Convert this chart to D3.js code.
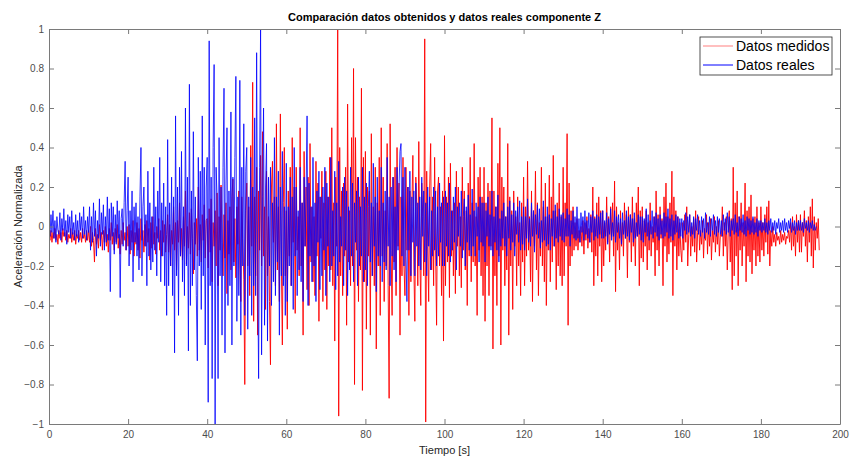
<!DOCTYPE html>
<html>
<head>
<meta charset="utf-8">
<script src="https://cdn.jsdelivr.net/npm/d3@7"></script>
<style>
  body { margin: 0; background: #fff; }
  svg { display: block; font-family: "Liberation Sans", Arial, Helvetica, sans-serif; }
</style>
</head>
<body>
<div id="chart"></div>
<script>
// sample spacing of both signals, seconds
var dt = 0.25;

// Datos medidos (red), one value every 0.25 s from t = 0, 40 values = 10 s per line
var medidos = [
  -0.04,-0.07,-0.02,-0.08,-0.03,-0.06,-0.01,-0.07,-0.04,-0.09,-0.02,-0.06,-0.03,-0.08,-0.01,-0.05,-0.03,-0.07,-0.02,-0.08,
  -0.04,-0.06,-0.01,-0.08,-0.03,-0.07,-0.02,-0.09,-0.04,-0.06,-0.02,-0.07,-0.03,-0.08,-0.01,-0.06,-0.04,-0.08,-0.02,-0.07,
  -0.02,-0.08,0.00,-0.10,-0.03,-0.07,-0.18,-0.01,-0.09,-0.04,-0.11,0.01,-0.07,-0.03,-0.12,-0.02,-0.08,0.00,-0.10,-0.04,
  -0.13,-0.01,-0.07,0.02,-0.09,-0.03,-0.12,-0.01,-0.08,0.01,-0.11,-0.04,-0.14,-0.02,-0.09,0.02,-0.07,-0.03,-0.12,0.00,
  -0.10,0.01,-0.14,-0.02,-0.08,0.03,-0.15,-0.03,-0.09,0.02,-0.12,-0.01,-0.16,0.04,-0.07,-0.02,-0.13,0.01,-0.10,0.03,
  -0.08,-0.01,-0.17,0.02,-0.11,0.05,-0.09,-0.03,-0.14,0.00,-0.06,0.04,-0.12,-0.02,-0.15,0.03,-0.08,0.01,-0.13,-0.04,
  0.06,-0.13,0.01,-0.20,-0.02,-0.09,0.10,-0.12,0.02,-0.22,0.03,-0.08,0.12,-0.15,-0.01,-0.17,0.05,-0.10,0.18,-0.19,
  0.00,-0.11,0.07,-0.14,0.09,-0.06,-0.24,0.02,-0.09,0.04,-0.15,0.20,-0.12,0.01,-0.18,0.06,-0.07,0.11,-0.16,0.03,
  0.04,-0.21,0.09,-0.13,0.14,-0.28,0.02,-0.10,0.08,-0.20,0.17,-0.30,0.05,-0.12,0.21,-0.08,-0.25,0.06,-0.16,0.12,
  -0.34,0.03,-0.14,0.10,-0.22,0.15,0.24,-0.18,0.04,-0.26,0.10,-0.09,0.18,-0.20,-0.38,0.15,-0.06,-0.27,-0.80,0.08,
  0.22,-0.20,0.10,-0.35,0.41,-0.10,0.73,-0.48,0.15,-0.25,0.30,-0.55,0.18,-0.12,0.36,-0.20,0.48,-0.15,0.10,-0.42,
  0.28,-0.25,0.05,-0.38,-0.70,0.20,0.33,-0.08,0.15,-0.30,0.52,-0.22,0.10,-0.38,0.57,-0.18,-0.60,0.12,0.40,-0.25,
  0.08,-0.52,0.18,-0.15,0.30,-0.30,0.45,-0.08,0.20,-0.44,0.30,-0.12,0.05,-0.25,0.50,-0.20,0.12,-0.55,0.38,-0.10,
  0.20,-0.32,0.25,-0.40,0.42,-0.18,0.10,-0.28,0.05,-0.35,0.33,-0.15,0.22,-0.48,0.15,-0.06,0.28,-0.38,0.12,-0.22,
  0.28,-0.42,0.15,-0.20,0.35,-0.22,0.50,-0.30,0.12,-0.58,0.25,-0.10,1.00,-0.96,0.40,-0.25,0.18,-0.35,0.22,-0.15,
  0.30,-0.50,0.62,-0.18,0.08,-0.30,0.45,-0.20,0.80,-0.80,0.45,-0.12,0.25,-0.38,0.15,-0.22,0.70,-0.83,0.35,-0.28,
  0.38,-0.52,0.20,-0.15,0.18,-0.55,0.47,-0.25,0.10,-0.30,0.30,-0.62,0.12,-0.20,0.35,-0.45,0.50,-0.15,0.25,-0.38,
  0.08,-0.20,0.42,-0.30,-0.87,0.52,-0.12,-0.45,0.25,-0.18,0.30,-0.35,0.40,-0.10,0.22,-0.55,0.15,-0.25,0.35,-0.20,
  -0.35,0.30,-0.12,0.20,-0.45,0.18,-0.28,0.10,0.36,-0.20,-0.48,0.25,0.10,-0.30,0.43,-0.15,-0.40,0.22,0.05,-0.25,
  0.95,-0.99,0.28,-0.10,-0.38,0.20,0.42,-0.22,0.15,-0.30,0.35,-0.12,-0.50,0.18,0.25,-0.20,0.10,-0.35,0.18,-0.58,
  0.46,-0.30,0.15,-0.18,0.25,-0.36,0.32,-0.15,0.08,-0.25,0.12,-0.34,0.28,-0.10,0.20,-0.25,0.05,-0.31,0.30,-0.12,
  0.18,-0.22,0.08,-0.40,0.22,-0.15,0.35,-0.28,0.12,-0.18,0.42,-0.20,0.05,-0.45,0.25,-0.12,0.30,-0.25,0.15,-0.35,
  0.30,-0.48,0.12,-0.20,0.22,-0.35,0.18,-0.10,0.55,-0.62,0.18,-0.25,0.10,-0.40,0.32,-0.15,0.50,-0.60,0.25,-0.12,
  0.20,-0.30,0.05,-0.22,0.42,-0.55,0.15,-0.20,0.08,-0.42,0.18,-0.10,0.05,-0.30,0.15,-0.20,0.02,-0.35,0.12,-0.18,
  0.25,-0.30,0.10,-0.15,0.33,-0.12,0.05,-0.28,0.18,-0.38,0.08,-0.10,0.28,-0.22,0.12,-0.35,0.02,-0.15,0.30,-0.20,
  0.10,-0.28,0.22,-0.40,0.05,-0.12,0.26,-0.28,0.15,-0.18,0.36,-0.10,0.08,-0.32,0.12,-0.20,0.22,-0.25,0.05,-0.30,
  0.30,-0.25,0.12,-0.10,0.47,-0.50,0.22,-0.20,0.08,-0.15,0.10,-0.12,0.02,-0.10,0.04,-0.12,-0.02,-0.08,0.00,-0.10,
  0.03,-0.14,0.02,-0.07,0.05,-0.11,-0.01,-0.08,0.06,-0.13,0.20,-0.30,0.05,-0.15,0.12,-0.25,0.15,-0.10,0.08,-0.28,
  0.08,-0.20,0.02,-0.12,0.15,-0.08,0.05,-0.18,0.10,-0.05,0.12,-0.15,0.23,-0.33,0.10,-0.12,0.02,-0.22,0.08,-0.10,
  0.02,-0.15,0.12,-0.06,0.06,-0.26,0.10,-0.08,0.06,-0.18,0.15,-0.10,0.04,-0.20,0.12,-0.05,0.20,-0.30,0.08,-0.16,
  0.10,-0.18,0.03,-0.10,0.08,-0.22,0.02,-0.12,0.12,-0.15,0.00,-0.08,0.05,-0.25,0.18,-0.12,0.06,-0.20,0.10,-0.06,
  0.04,-0.30,0.15,-0.10,0.22,-0.18,0.05,-0.14,0.12,-0.08,0.28,-0.35,0.15,-0.10,0.08,-0.22,0.05,-0.15,0.02,-0.12,
  -0.18,0.02,-0.12,0.06,-0.08,0.10,-0.20,-0.04,0.06,-0.15,0.00,-0.10,0.04,-0.13,0.08,-0.18,-0.03,0.05,-0.12,-0.02,
  -0.09,0.03,-0.16,-0.01,-0.07,0.06,-0.14,0.02,-0.10,0.04,-0.17,-0.02,-0.08,0.05,-0.13,0.00,-0.09,0.03,-0.15,-0.04,
  -0.05,0.10,-0.15,0.02,-0.10,0.05,-0.22,-0.02,0.08,-0.18,0.04,-0.32,0.30,-0.25,0.12,-0.15,0.18,-0.30,0.05,-0.12,
  0.12,-0.20,0.02,-0.10,0.22,-0.28,0.08,-0.15,0.10,-0.18,0.16,-0.24,0.04,-0.12,0.05,-0.20,0.10,-0.15,0.02,-0.18,
  0.10,-0.12,0.02,-0.15,0.06,-0.08,0.10,-0.14,0.13,-0.20,-0.02,-0.10,0.00,-0.08,-0.04,-0.10,-0.03,-0.07,-0.05,-0.09,
  -0.02,-0.08,-0.04,-0.07,-0.03,-0.09,-0.05,-0.06,-0.02,-0.08,0.02,-0.12,0.05,-0.10,0.00,-0.15,0.06,-0.08,0.03,-0.13,
  0.06,-0.13,0.02,-0.05,0.08,-0.10,0.03,-0.18,0.05,-0.08,0.10,-0.15,0.14,-0.21,0.05,-0.12,0.02,-0.06,0.04,-0.12
];

// Datos reales (blue), one value every 0.25 s from t = 0
var reales = [
  0.02,-0.05,0.06,-0.03,0.08,-0.06,0.03,-0.08,0.05,-0.02,-0.04,0.07,-0.07,0.04,-0.02,0.09,-0.05,0.03,-0.09,0.06,
  -0.03,0.05,-0.06,0.08,-0.04,0.02,-0.07,0.06,-0.05,0.03,-0.08,0.07,-0.02,0.05,-0.06,0.10,-0.04,0.03,-0.07,0.05,
  -0.03,0.10,-0.12,0.05,-0.08,0.12,-0.05,0.08,-0.15,0.03,-0.06,0.14,-0.10,0.07,-0.04,0.11,-0.12,0.05,-0.08,0.15,
  -0.07,0.09,-0.33,0.12,-0.05,0.10,-0.14,0.06,-0.09,0.13,-0.06,0.08,-0.36,0.04,0.09,-0.10,0.12,0.33,-0.12,0.08,
  0.25,-0.20,0.08,-0.12,0.18,-0.28,0.10,-0.08,0.12,-0.15,0.05,-0.22,0.15,0.40,-0.25,0.10,0.20,-0.10,0.06,-0.30,
  0.28,-0.15,0.12,-0.22,0.05,-0.18,0.30,-0.12,0.10,-0.25,0.18,-0.08,0.35,-0.28,0.12,-0.15,0.22,-0.30,0.10,-0.45,
  0.44,-0.30,0.12,-0.20,0.25,-0.35,0.15,-0.64,0.56,-0.25,0.20,-0.45,0.30,-0.15,0.38,-0.28,0.10,-0.35,0.60,-0.20,
  0.25,-0.63,0.72,-0.40,0.18,-0.30,0.48,-0.22,0.15,-0.35,-0.68,0.35,-0.20,0.28,-0.42,0.56,-0.25,0.30,-0.60,0.20,
  0.35,-0.89,0.94,-0.30,0.25,-0.77,0.40,0.82,-1.00,0.30,0.15,-0.77,0.45,-0.25,0.20,-0.55,0.30,0.70,-0.64,0.22,
  0.50,-0.40,0.18,-0.30,0.58,-0.60,0.25,-0.20,0.35,0.76,-0.48,0.15,-0.35,0.74,-0.55,0.30,-0.20,0.52,-0.45,0.28,
  0.40,-0.52,0.15,-0.25,0.35,-0.45,0.20,-0.30,0.55,-0.35,0.88,-0.20,-0.77,0.30,1.00,-0.65,0.15,0.60,-0.50,0.20,
  0.42,-0.58,0.25,-0.20,0.30,-0.40,0.12,-0.28,0.45,-0.35,0.15,-0.18,0.28,-0.55,0.20,-0.25,0.38,-0.30,0.10,-0.45,
  0.32,-0.38,0.10,-0.20,0.25,-0.30,0.15,-0.42,0.40,-0.15,0.20,-0.35,0.08,-0.22,0.30,-0.28,0.12,-0.38,0.25,-0.10,
  0.15,0.56,-0.40,0.22,-0.15,0.10,-0.28,0.35,-0.20,0.12,-0.38,0.18,-0.08,0.28,-0.32,0.15,-0.25,0.20,-0.12,0.30,
  -0.35,0.22,-0.10,0.15,-0.28,0.35,-0.20,0.08,-0.15,0.28,-0.32,0.12,-0.25,0.33,-0.18,0.05,-0.10,0.20,-0.30,0.25,
  -0.12,0.18,-0.35,0.10,-0.22,0.30,-0.15,0.22,-0.28,0.12,-0.08,0.18,-0.30,0.25,-0.20,0.10,-0.15,0.30,-0.28,0.15,
  -0.22,0.22,-0.30,0.10,0.28,-0.18,0.12,-0.25,0.32,-0.10,0.15,-0.33,0.25,-0.15,0.08,-0.20,0.30,-0.28,0.12,-0.18,
  0.18,-0.22,0.35,-0.10,0.15,-0.30,0.20,-0.15,0.25,-0.22,0.10,-0.28,0.30,-0.12,0.20,0.38,0.42,-0.15,0.25,-0.20,
  0.30,-0.15,-0.38,0.20,-0.12,0.28,-0.25,0.15,-0.08,0.18,-0.25,0.22,-0.10,0.12,-0.20,0.15,-0.22,0.25,-0.05,0.18,
  -0.18,0.12,-0.25,0.20,-0.10,0.15,-0.22,0.08,-0.15,0.20,-0.12,0.18,-0.20,0.10,-0.15,0.22,-0.08,0.12,-0.20,0.15,
  -0.20,0.18,-0.10,0.12,-0.15,0.22,-0.18,0.08,-0.12,0.15,-0.08,0.20,-0.22,0.10,-0.05,0.12,-0.10,0.18,-0.16,0.05,
  0.14,-0.20,0.10,-0.08,0.16,-0.12,0.06,-0.15,0.19,-0.10,0.08,-0.15,0.12,-0.05,0.10,-0.18,0.15,-0.08,0.12,-0.10,
  0.12,-0.18,0.08,-0.05,0.15,-0.10,0.06,-0.12,0.18,-0.15,0.05,-0.08,0.10,-0.12,0.16,-0.18,0.04,-0.10,0.08,-0.06,
  0.12,-0.10,0.05,-0.15,0.10,-0.06,0.13,-0.12,0.06,-0.08,0.12,-0.15,0.08,-0.04,0.10,-0.08,0.13,-0.12,0.05,-0.09,
  0.10,-0.12,0.05,-0.06,0.14,-0.08,0.04,-0.10,0.12,-0.05,0.08,-0.13,0.06,-0.04,0.11,-0.06,0.09,-0.11,0.03,-0.08,
  0.13,-0.07,0.05,-0.10,0.10,-0.09,0.06,-0.12,0.04,-0.05,0.08,-0.10,0.11,-0.06,0.05,-0.08,0.09,-0.05,0.06,-0.07,
  0.07,-0.08,0.04,-0.05,0.09,-0.05,0.06,-0.10,0.03,-0.04,0.08,-0.06,0.05,-0.07,0.10,-0.06,0.04,-0.08,0.07,-0.03,
  0.05,-0.07,0.08,-0.04,0.03,-0.06,0.07,-0.08,0.05,-0.03,0.08,-0.07,0.04,-0.05,0.06,-0.06,0.05,-0.04,0.07,-0.06,
  0.08,-0.06,0.03,-0.05,0.07,-0.09,0.04,-0.04,0.09,-0.07,0.02,-0.05,0.08,-0.08,0.05,-0.03,0.06,-0.06,0.04,-0.09,
  0.07,-0.04,0.03,-0.06,0.08,-0.05,0.05,-0.07,0.06,-0.03,0.04,-0.08,0.07,-0.06,0.02,-0.05,0.06,-0.04,0.05,-0.07,
  0.05,-0.08,0.04,-0.03,0.09,-0.05,0.06,-0.07,0.03,-0.04,0.08,-0.06,0.05,-0.03,0.07,-0.05,0.04,-0.07,0.06,-0.04,
  0.03,-0.06,0.07,-0.05,0.05,-0.03,0.09,-0.06,0.04,-0.05,0.06,-0.07,0.03,-0.04,0.06,-0.03,0.05,-0.06,0.04,-0.05,
  0.04,-0.06,0.03,-0.02,0.07,-0.04,0.05,-0.03,0.06,-0.05,0.02,-0.04,0.05,-0.06,0.04,-0.02,0.06,-0.04,0.03,-0.05,
  0.05,-0.03,0.04,-0.06,0.07,-0.03,0.02,-0.04,0.05,-0.05,0.04,-0.02,0.06,-0.04,0.03,-0.05,0.05,-0.03,0.04,-0.04,
  0.03,-0.05,0.06,-0.02,0.04,-0.04,0.07,-0.03,0.05,-0.05,0.03,-0.02,0.04,-0.04,0.06,-0.03,0.02,-0.05,0.05,-0.02,
  0.04,-0.03,0.06,-0.04,0.03,-0.05,0.05,-0.02,0.04,-0.04,0.03,-0.03,0.05,-0.04,0.02,-0.03,0.04,-0.05,0.03,-0.02,
  0.03,-0.03,0.02,-0.02,0.04,-0.03,0.02,-0.04,0.03,-0.02,0.04,-0.03,0.02,-0.02,0.03,-0.04,0.02,-0.01,0.04,-0.03,
  0.02,-0.02,0.03,-0.03,0.04,-0.02,0.02,-0.03,0.03,-0.01,0.04,-0.03,0.02,-0.02,0.03,-0.04,0.02,-0.02,0.03,-0.02,
  0.03,-0.02,0.02,-0.03,0.04,-0.01,0.02,-0.02,0.03,-0.03,0.02,-0.01,0.03,-0.02,0.01,-0.02,0.00
];

var xTicks = [0, 20, 40, 60, 80, 100, 120, 140, 160, 180, 200];
var yTicks = [-1, -0.8, -0.6, -0.4, -0.2, 0, 0.2, 0.4, 0.6, 0.8, 1];
var seriesNames = ["Datos medidos", "Datos reales"];

var width = 850, height = 457,
    margin = {top: 29, right: 10, bottom: 33, left: 49},
    plotW = width - margin.left - margin.right,
    plotH = height - margin.top - margin.bottom;

var svg = d3.select("#chart").append("svg")
    .attr("width", width)
    .attr("height", height);

var x = d3.scaleLinear().domain([0, 200]).range([margin.left, margin.left + plotW]);
var y = d3.scaleLinear().domain([-1, 1]).range([margin.top + plotH, margin.top]);

svg.append("clipPath").attr("id", "clip")
    .append("rect")
    .attr("x", margin.left).attr("y", margin.top)
    .attr("width", plotW).attr("height", plotH);

var line = d3.line()
    .x(function (d, i) { return x(i * dt); })
    .y(function (d) { return y(d); });

var plot = svg.append("g").attr("clip-path", "url(#clip)");

plot.append("path")
    .datum(medidos)
    .attr("d", line)
    .attr("fill", "none")
    .attr("stroke", "#ff0000")
    .attr("stroke-width", 1)
    .attr("stroke-opacity", 0.9);

plot.append("path")
    .datum(reales)
    .attr("d", line)
    .attr("fill", "none")
    .attr("stroke", "#0000ff")
    .attr("stroke-width", 1)
    .attr("stroke-opacity", 0.8);

// axes, ticks pointing inwards on all four sides
var axisColor = "#7a7a7a";
function styleAxis(g) {
    g.select(".domain").attr("stroke", axisColor);
    g.selectAll(".tick line").attr("stroke", axisColor);
    g.selectAll(".tick text").attr("fill", "#4d4d4d").style("font-size", "10px");
}

svg.append("g")
    .attr("transform", "translate(0," + (margin.top + plotH) + ")")
    .call(d3.axisBottom(x).tickValues(xTicks).tickSize(-5).tickSizeOuter(0).tickPadding(7))
    .call(styleAxis);

svg.append("g")
    .attr("transform", "translate(0," + margin.top + ")")
    .call(d3.axisTop(x).tickValues(xTicks).tickSize(-5).tickSizeOuter(0).tickFormat(""))
    .call(styleAxis);

svg.append("g")
    .attr("transform", "translate(" + margin.left + ",0)")
    .call(d3.axisLeft(y).tickValues(yTicks).tickSize(-5).tickSizeOuter(0).tickPadding(5)
        .tickFormat(function (d) { return d3.format("")(+d.toFixed(1)); }))
    .call(styleAxis);

svg.append("g")
    .attr("transform", "translate(" + (margin.left + plotW) + ",0)")
    .call(d3.axisRight(y).tickValues(yTicks).tickSize(-5).tickSizeOuter(0).tickFormat(""))
    .call(styleAxis);

// title and axis labels
svg.append("text")
    .attr("x", margin.left + plotW / 2)
    .attr("y", 21)
    .attr("text-anchor", "middle")
    .style("font-size", "11px")
    .style("font-weight", "bold")
    .attr("fill", "#000")
    .text("Comparación datos obtenidos y datos reales componente Z");

svg.append("text")
    .attr("x", margin.left + plotW / 2)
    .attr("y", 454)
    .attr("text-anchor", "middle")
    .style("font-size", "11px")
    .attr("fill", "#262626")
    .text("Tiempo [s]");

svg.append("text")
    .attr("transform", "translate(22," + (margin.top + plotH / 2) + ") rotate(-90)")
    .attr("text-anchor", "middle")
    .style("font-size", "11px")
    .attr("fill", "#262626")
    .text("Aceleración Normalizada");

// legend
var legend = svg.append("g").attr("transform", "translate(700,37)");
legend.append("rect")
    .attr("width", 132).attr("height", 38)
    .attr("fill", "#fff")
    .attr("stroke", "#262626")
    .attr("stroke-width", 0.8);

var legendColors = [["#ff0000", 0.5], ["#0000ff", 1]];
legend.selectAll(".entry")
    .data(seriesNames)
    .enter().append("g")
    .attr("class", "entry")
    .attr("transform", function (d, i) { return "translate(0," + (9 + i * 19) + ")"; })
    .each(function (d, i) {
        var g = d3.select(this);
        g.append("line")
            .attr("x1", 3).attr("x2", 33)
            .attr("stroke", legendColors[i][0])
            .attr("stroke-opacity", legendColors[i][1])
            .attr("stroke-width", 1);
        g.append("text")
            .attr("x", 36).attr("y", 5)
            .style("font-size", "14px")
            .attr("fill", "#000")
            .text(d);
    });
</script>
</body>
</html>
